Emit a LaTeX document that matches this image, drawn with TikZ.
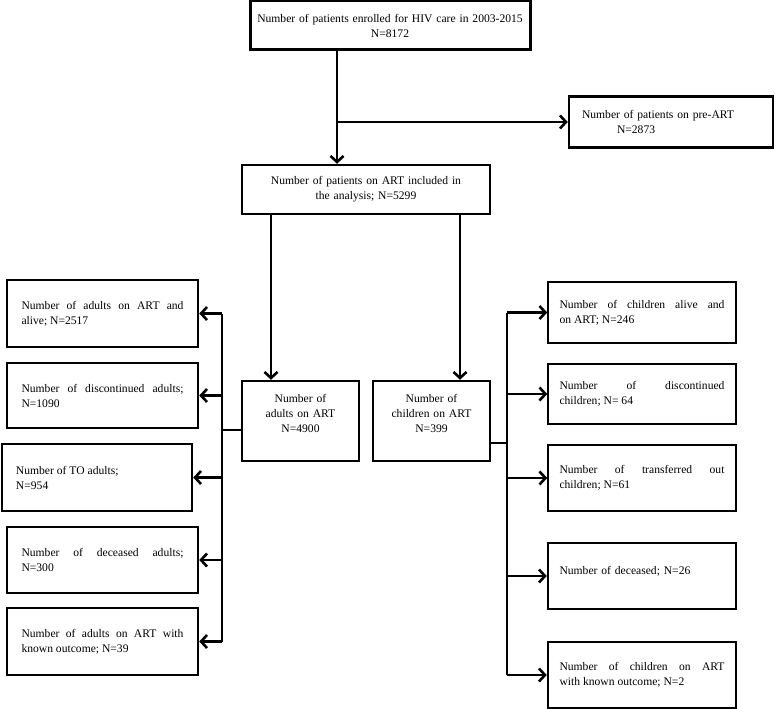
\documentclass[tikz,border=0pt]{standalone}
\usepackage{fontspec}
\setmainfont{Liberation Serif}
\usetikzlibrary{arrows.meta}
\begin{document}
\begin{tikzpicture}[x=1pt,y=-1pt,
 box/.style={draw, line width=2.5pt, inner xsep=0pt, inner ysep=0pt, font=\fontsize{11.6}{15}\selectfont},
 lbox/.style={box, minimum width=191pt, text width=162pt, align=justify},
 rbox/.style={box, minimum width=188pt, text width=165pt, align=justify},
 thinbox/.style={line width=1.5pt},
 conn/.style={line width=2.6pt},
 arr/.style={conn, -{Straight Barb[length=6pt,width=13pt]}}]
\useasboundingbox (0,0) rectangle (776,709);
% top part
\node[box, line width=3pt, minimum width=280pt, minimum height=49pt, text width=276pt, align=center] (top) at (390,25.5)
  {Number of patients enrolled for HIV care in 2003-2015\\N=8172};
\node[box, minimum width=204pt, minimum height=51pt, text width=178pt, align=left] (pre) at (671,122)
  {Number of patients on pre-ART\\\hspace*{35pt}N=2873};
\node[box, minimum width=248pt, minimum height=49pt, text width=236pt, align=center] (art) at (366,189.5)
  {Number of patients on ART included in\\the analysis; N=5299};
\node[box, minimum width=117pt, minimum height=80pt, text width=112pt, align=center] (adults) at (300.5,421)
  {Number of\\adults on ART\\N=4900\\[1pt]~};
\node[box, minimum width=117pt, minimum height=80pt, text width=112pt, align=center] (children) at (431.5,421)
  {Number of\\children on ART\\N=399\\[1pt]~};
% left boxes
\node[lbox, minimum height=67pt] (L1) at (102.5,313.5) {Number of adults on ART and\linebreak alive; N=2517};
\node[lbox, minimum height=65pt] (L2) at (102.5,395.5) {Number of discontinued adults;\linebreak N=1090};
\node[lbox, minimum width=190pt, minimum height=67pt] (L3) at (97,477.5) {Number of TO adults;\\N=954};
\node[lbox, minimum height=66pt] (L4) at (102.5,560) {Number of deceased adults;\linebreak N=300};
\node[lbox, minimum height=67pt] (L5) at (102.5,641.5) {Number of adults on ART with\linebreak known outcome; N=39};
% right boxes
\node[rbox, thinbox, minimum height=61pt] (R1) at (642,312.5) {Number of children alive and\linebreak on ART; N=246};
\node[rbox, thinbox, minimum height=60pt] (R2) at (642,394) {Number of discontinued\linebreak children; N=~64};
\node[rbox, thinbox, minimum height=66pt] (R3) at (642,478) {Number of transferred out\linebreak children; N=61};
\node[rbox, minimum height=66pt, align=left] (R4) at (642,576) {Number of deceased; N=26\\[-4pt]~};
\node[rbox, minimum height=66pt] (R5) at (642,675) {Number of children on ART\linebreak with known outcome; N=2};
% helper coordinates
\coordinate (vx) at (337,0);
\coordinate (ax) at (271,0);
\coordinate (cx) at (460,0);
\coordinate (lbar) at (222,0);
\coordinate (rbar) at (507,0);
% connectors
\draw[arr] (top.south -| vx) -- (art.north -| vx);
\draw[arr] (vx |- pre.west) -- (pre.west);
\draw[arr] (art.south -| ax) -- (adults.north -| ax);
\draw[arr] (art.south -| cx) -- (children.north -| cx);
% left bracket
\draw[conn] (L1.east -| lbar) -- (L5.east -| lbar);
\draw[conn] ([yshift=-9pt]adults.west) -- ([yshift=-9pt]adults.west -| lbar);
\foreach \b in {L1,L2,L3,L4,L5} \draw[arr] (\b.east -| lbar) -- (\b.east);
% right bracket
\draw[conn] (R1.west -| rbar) -- (R5.west -| rbar);
\draw[conn] ([yshift=-22pt]children.east) -- ([yshift=-22pt]children.east -| rbar);
\foreach \b in {R1,R2,R3,R4,R5} \draw[arr] (\b.west -| rbar) -- (\b.west);
\end{tikzpicture}
\end{document}
